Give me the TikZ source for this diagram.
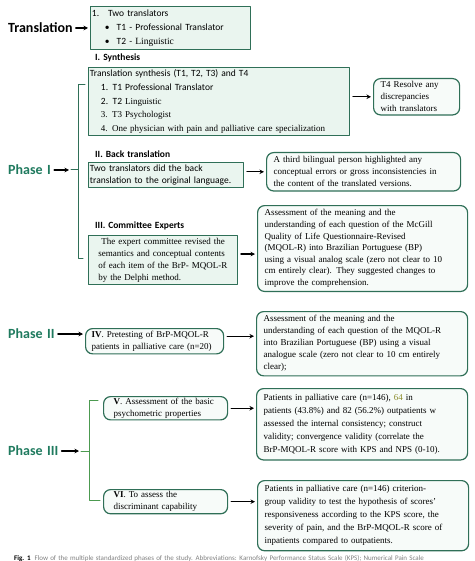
\documentclass[tikz,border=0pt]{standalone}
\usepackage{fontspec}
\setmainfont{Liberation Serif}[WordSpace=1.9]
\setsansfont{Carlito}[WordSpace=1.4]
\usetikzlibrary{arrows.meta,positioning}

\definecolor{boxgreen}{HTML}{2F6F57}
\definecolor{phasegreen}{HTML}{1F7A5E}
\definecolor{mint}{HTML}{EAF5EF}
\definecolor{paper}{HTML}{F7FBF9}
\definecolor{bracegreen}{HTML}{4C9A50}
\definecolor{olive}{HTML}{8C8C2C}
\definecolor{capgray}{HTML}{808080}

\newcommand{\sfbody}{\sffamily\fontsize{9.5}{11.7}\selectfont}
\newcommand{\rmbody}{\rmfamily\fontsize{9}{12}\selectfont}

\tikzset{
  sqbox/.style={draw=boxgreen,fill=mint,line width=0.9pt,anchor=north west,
    align=left,inner xsep=1.5pt,inner ysep=2.5pt},
  rbox/.style={sqbox,rounded corners=7pt,line width=1.2pt,fill=paper,
    inner xsep=7pt,inner ysep=4pt,font=\rmbody},
  head/.style={font=\sffamily\bfseries\fontsize{14}{16}\selectfont,anchor=west,inner sep=0pt},
  phase/.style={head,text=phasegreen},
  steplabel/.style={font=\sffamily\bfseries\fontsize{9.5}{11}\selectfont,anchor=west,inner sep=0pt},
  arr/.style={-{Stealth[length=4.5pt,width=4.5pt]},line width=1.1pt,shorten <=3pt,shorten >=2pt},
  brace/.style={draw=boxgreen,line width=1pt}
}

\begin{document}
\begin{tikzpicture}[x=1pt,y=-1pt,line cap=round,line join=round]
  \useasboundingbox (0,0) rectangle (474,561);

  % translation
  \node[head] (trans) at (8,28) {Translation};
  \node[sqbox,text width=157pt,inner ysep=3pt,font=\sffamily\fontsize{9.5}{14}\selectfont] (tr) at (90,6)
    {1.\hspace{9pt}Two translators\\
     \hspace*{13pt}\textbullet\hspace{7pt}T1 - Professional Translator\\
     \hspace*{13pt}\textbullet\hspace{7pt}T2 - {\rmfamily Linguistic}};
  \draw[arr] (trans.east) -- (trans.east -| tr.west);

  % phase I : synthesis
  \node[steplabel] (lsyn) at (95,58) {I. Synthesis};
  \node[sqbox,text width=258pt,font=\rmfamily\fontsize{9}{13.6}\selectfont] (syn) at (88,67)
    {{\sffamily\fontsize{9.5}{13.6}\selectfont Translation synthesis (T1, T2, T3) and T4}\\
     \hspace*{11pt}{\sffamily\fontsize{9.5}{13.6}\selectfont 1. T1 Professional Translator}\\
     \hspace*{11pt}{\sffamily\fontsize{9.5}{13.6}\selectfont 2. T2} Linguistic\\
     \hspace*{11pt}3. T3 Psychologist\\
     \hspace*{11pt}4. One physician with pain and palliative care specialization};
  \node[rbox,text width=72pt,inner ysep=3pt] (t4) at (373,78)
    {T4 Resolve any\\ discrepancies\\ with translators};
  \draw[arr] (syn.east |- t4.west) -- (t4.west);

  % phase I : back translation
  \node[steplabel] (lback) at (95,154) {II. Back translation};
  \node[sqbox,text width=152pt,font=\sfbody] (back) at (88,162)
    {Two translators did the back\\ translation to the original language.};
  \node[rbox,text width=180pt,inner xsep=7pt] (third) at (266,152)
    {A third bilingual person highlighted any\\
     conceptual errors or gross inconsistencies in\\
     the content of the translated versions.};
  \draw[arr] (back.east |- third.west) -- (third.west);

  % phase I : committee
  \node[steplabel] (lcom) at (95,226) {III. Committee Experts};
  \node[sqbox,text width=143pt,inner xsep=3pt,font=\rmbody] (com) at (88,235)
    {\hspace*{10pt}The expert committee revised the\\
     \hspace*{7pt}semantics and conceptual contents\\
     \hspace*{7pt}of each item of the BrP- MQOL-R\\
     \hspace*{7pt}by the Delphi method.};
  \node[rbox,text width=196pt,font=\rmfamily\fontsize{9}{11.6}\selectfont] (mcgill) at (257,205)
    {Assessment of the meaning and the\\
     understanding of each question of the McGill\\
     Quality of Life Questionnaire-Revised\\
     (MQOL-R) into Brazilian Portuguese (BP)\\
     using a visual analog scale (zero not clear to 10\\
     cm entirely clear). They suggested changes to\\
     improve the comprehension.};
  \draw[arr] ([yshift=6pt]com.east) -- ([yshift=6pt]com.east -| mcgill.west);

  % phase I bracket
  \draw[brace] (85,85) -- (78,85) -- (78,258) -- (83,258);
  \coordinate (b1tip) at (71,170);
  \draw[brace] (78,170) -- (b1tip);
  \node[phase] (ph1) at (8,170) {Phase I};
  \draw[arr] (ph1.east) -- (b1tip);

  % phase II
  \node[phase] (ph2) at (8,334) {Phase II};
  \node[rbox,text width=126pt,inner xsep=6pt,inner ysep=2.5pt] (pre) at (85,328)
    {\textbf{IV}. Pretesting of BrP-MQOL-R\\ patients in palliative care (n=20)};
  \node[rbox,text width=197pt] (mqol) at (256,311)
    {Assessment of the meaning and the\\
     understanding of each question of the MQOL-R\\
     into Brazilian Portuguese (BP) using a visual\\
     analogue scale (zero not clear to 10 cm entirely\\
     clear);};
  \draw[arr] (ph2.east) -- (ph2.east -| pre.west);
  \draw[arr] ([yshift=5pt]pre.east) -- ([yshift=5pt]pre.east -| mqol.west);

  % phase III
  \node[phase] (ph3) at (8,451) {Phase III};
  \node[rbox,text width=104pt,inner xsep=10pt,inner ysep=1.5pt] (basic) at (103,396)
    {\textbf{V}. Assessment of the basic\\ psychometric properties};
  \node[rbox,text width=197pt,inner ysep=6pt,font=\rmfamily\fontsize{9}{12.8}\selectfont] (valid) at (256,388)
    {Patients in palliative care (n=146), \textcolor{olive}{64} in\\
     patients (43.8\%) and 82 (56.2\%) outpatients w\\
     assessed the internal consistency; construct\\
     validity; convergence validity (correlate the\\
     BrP-MQOL-R score with KPS and NPS (0-10).};
  \node[rbox,text width=104pt,inner xsep=10pt,inner ysep=2pt] (discr) at (103,489)
    {\textbf{VI}. To assess the\\ discriminant capability};
  \node[rbox,text width=197pt,inner ysep=5pt,font=\rmfamily\fontsize{9}{13}\selectfont] (crit) at (257,480)
    {Patients in palliative care (n=146) criterion-\\
     group validity to test the hypothesis of scores'\\
     responsiveness according to the KPS score, the\\
     severity of pain, and the BrP-MQOL-R score of\\
     inpatients compared to outpatients.};
  \draw[arr] (basic.east) -- (basic.east -| valid.west);
  \draw[arr] (discr.east) -- (discr.east -| crit.west);

  % phase III bracket
  \draw[brace,draw=bracegreen] (98,400) -- (89,400) -- (89,500) -- (100,500);
  \coordinate (b3tip) at (81,451);
  \draw[brace,draw=bracegreen] (89,451) -- (b3tip);
  \draw[arr] (ph3.east) -- (b3tip);

  % caption
  \node[anchor=base west,inner sep=0pt,font=\sffamily\fontsize{7}{8}\selectfont,text=capgray] (cap) at (14,560)
    {\textcolor{black}{\textbf{Fig. 1}}\hspace{4pt}Flow of the multiple standardized phases of the study. Abbreviations: Karnofsky Performance Status Scale (KPS); Numerical Pain Scale};
\end{tikzpicture}
\end{document}
